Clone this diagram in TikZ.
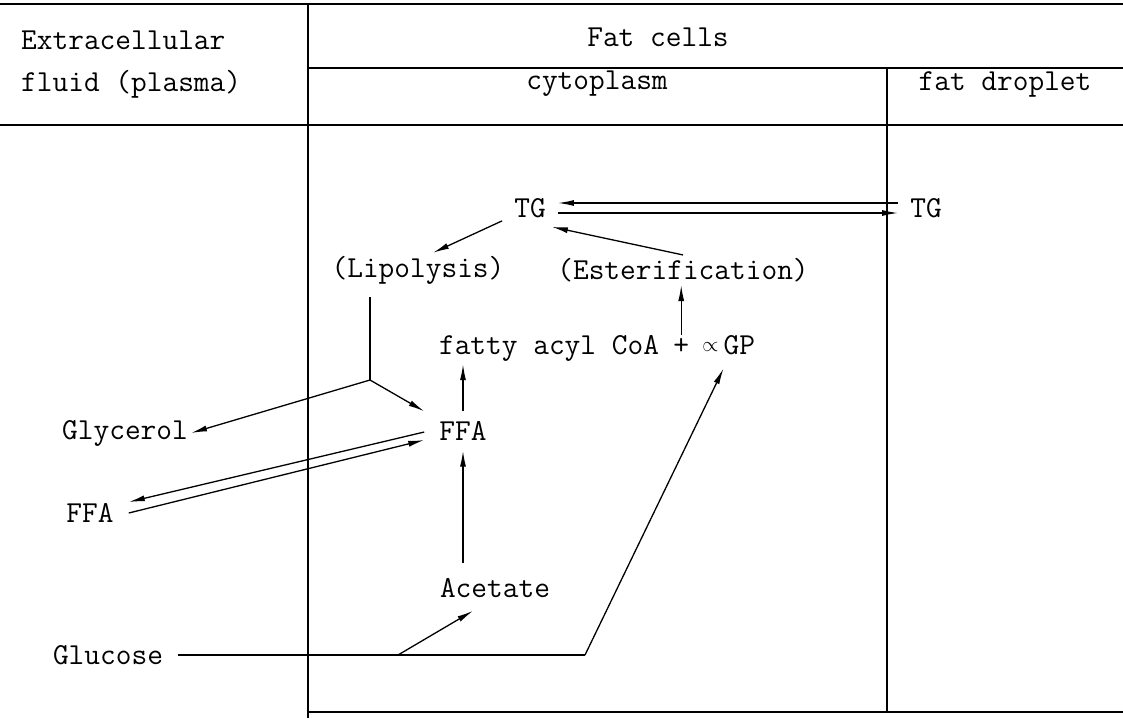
\documentclass[tikz,border=0pt]{standalone}
\usepackage{fontspec}
\usepackage{tikz}
\usetikzlibrary{arrows.meta,positioning,calc}
\newcommand{\typesize}{\ttfamily\fontsize{30.5}{35}\selectfont}
\newcommand{\alphasign}{\raisebox{3pt}{\fontsize{21}{24}\selectfont$\propto$}}

\begin{document}
\begin{tikzpicture}[
  x=1pt, y=-1pt,
  lbl/.style={inner sep=3pt, font=\typesize},
  tg/.style={lbl, inner xsep=12pt},
  ffa/.style={lbl, inner xsep=15pt, inner ysep=10pt},
  arrow/.style={-{Latex[length=16pt,width=6pt]}, line width=1.3pt},
  link/.style={line width=1.3pt},
  rule/.style={line width=1.6pt},
]
  \useasboundingbox (0,0) rectangle (1123,718);

  % table frame
  \draw[rule] (0,4) -- (1123,4);
  \draw[rule] (308,68) -- (1123,68);
  \draw[rule] (0,125) -- (1123,125);
  \draw[rule] (308,4) -- (308,718);
  \draw[rule] (887,68) -- (887,712);
  \draw[rule] (308,712) -- (1123,712);

  % headings
  \node[lbl, anchor=west] (extra) at (18,40) {Extracellular};
  \node[lbl, anchor=west] (fluid) at (18,84) {fluid (plasma)};
  \node[lbl] (fatcells) at (658,37) {Fat cells};
  \node[lbl] (cyto) at (597,84) {cytoplasm};
  \node[lbl] (drop) at (1005,84) {fat droplet};

  % metabolites
  \node[tg] (tgc) at (530,208) {TG};
  \node[tg] (tgd) at (926,208) {TG};
  \node[lbl] (lipo) at (418,270) {(Lipolysis)};
  \node[lbl] (ester) at (683,270) {(Esterification)};
  \node[lbl] (acyl) at (549,348) {fatty acyl CoA};
  \node[lbl, base right=8pt of acyl] (plus) {+};
  \node[lbl, base right=7pt of plus] (agp) {\alphasign\,GP};
  \node[lbl] (glyc) at (125,433) {Glycerol};
  \node[ffa] (ffac) at (463,431) {FFA};
  \node[ffa] (ffae) at (90,513) {FFA};
  \node[lbl] (acet) at (495,588) {Acetate};
  \node[lbl] (gluc) at (108,655) {Glucose};
  \coordinate (junc) at (370,380);
  \coordinate (gfork) at (398,655);
  \coordinate (gbend) at (585,655);

  % TG exchange with droplet
  \draw[arrow] ([yshift=5pt]tgd.west) -- ([yshift=5pt]tgc.east);
  \draw[arrow] ([yshift=-5pt]tgc.east) -- ([yshift=-5pt]tgd.west);
  \draw[arrow] (tgc) -- ([xshift=15pt]lipo.north);
  \draw[arrow] (ester.north) -- ([shift={(-6,6)}]tgc.south east);

  % lipolysis products
  \draw[link, shorten <=10pt] (junc |- lipo.south) -- (junc);
  \draw[arrow] (junc) -- (glyc.east);
  \draw[arrow] (junc) -- (ffac.north west);
  \draw[arrow] ([yshift=-1pt]ffac.west) -- ([yshift=11pt]ffae.east);
  \draw[arrow] (ffae.east) -- ([yshift=-9pt]ffac.west);

  % synthesis
  \draw[arrow] (ffac.north) -- (ffac.north |- acyl.south);
  \draw[arrow, shorten <=12pt] (ffac |- acet.north) -- (ffac.south);
  \draw[arrow] (plus.north) -- (plus.north |- ester.south);
  \draw[link, shorten <=12pt] (gluc.east) -- (gbend);
  \draw[arrow, shorten >=12pt] (gbend) -- (agp.south);
  \draw[arrow] (gfork) -- ([shift={(-22,10)}]acet.south);
\end{tikzpicture}
\end{document}
